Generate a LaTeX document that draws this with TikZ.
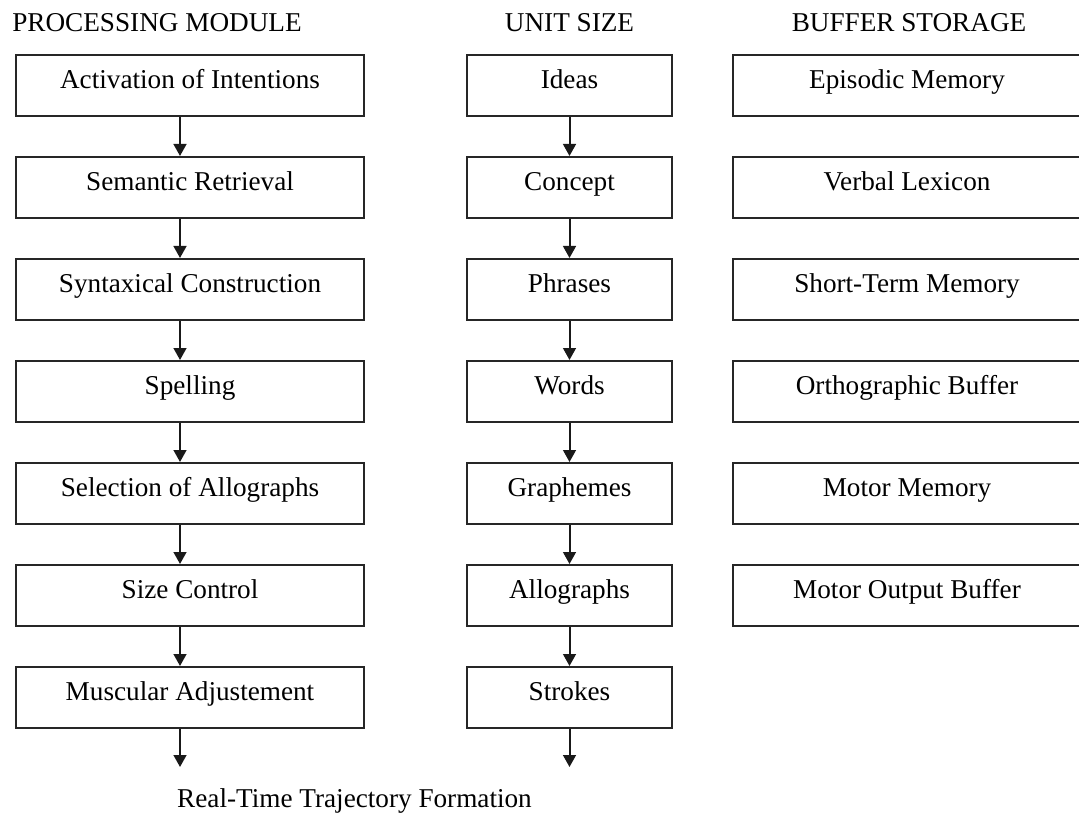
\documentclass[tikz,border=0pt]{standalone}
\usepackage{fontspec}
\setmainfont{Liberation Serif}
\usetikzlibrary{arrows.meta}
\begin{document}
\begin{tikzpicture}[x=0.5pt,y=-0.5pt,
  box/.style={draw=black!85, line width=1pt, minimum height=30.5pt, inner sep=0pt,
    text height=9pt, text depth=5.6pt, font=\fontsize{13.6}{16}\selectfont},
  wide/.style={box, minimum width=174pt},
  narrow/.style={box, minimum width=102.5pt},
  lbl/.style={inner sep=0pt, anchor=base, font=\fontsize{13.6}{16}\selectfont},
  arr/.style={draw=black!90, line width=1pt, -{Triangle[width=6.4pt,length=6pt]}}]
\clip (0,0) rectangle (1079,823);
\fill[white] (0,0) rectangle (1079,823);
% headers
\node[lbl] (h1) at (157,32) {PROCESSING MODULE};
\node[lbl] (h2) at (569.5,32) {UNIT SIZE};
\node[lbl] (h3) at (909,32) {BUFFER STORAGE};
% processing module
\foreach \i/\t in {1/Activation of Intentions, 2/Semantic Retrieval, 3/Syntaxical Construction,
  4/Spelling, 5/Selection of Allographs, 6/Size Control, 7/Muscular Adjustement}
  \node[wide] (p\i) at (190,{85.5+102*(\i-1)}) {\t};
% unit size
\foreach \i/\t in {1/Ideas, 2/Concept, 3/Phrases, 4/Words, 5/Graphemes, 6/Allographs, 7/Strokes}
  \node[narrow] (u\i) at (569.5,{85.5+102*(\i-1)}) {\t};
% buffer storage
\foreach \i/\t in {1/Episodic Memory, 2/Verbal Lexicon, 3/Short-Term Memory,
  4/Orthographic Buffer, 5/Motor Memory, 6/Motor Output Buffer}
  \node[wide] (b\i) at (907,{85.5+102*(\i-1)}) {\t};
% arrows
\foreach \i [evaluate=\i as \j using int(\i+1)] in {1,...,6} {
  \draw[arr] ([xshift=-5pt]p\i.south) -- ([xshift=-5pt]p\j.north);
  \draw[arr] (u\i.south) -- (u\j.north);
}
\coordinate (pe) at (180,767);
\coordinate (ue) at (569.5,767);
\draw[arr] ([xshift=-5pt]p7.south) -- (pe);
\draw[arr] (u7.south) -- (ue);
% bottom label
\node[lbl] (rt) at (354.5,807) {Real-Time Trajectory Formation};
\end{tikzpicture}
\end{document}
